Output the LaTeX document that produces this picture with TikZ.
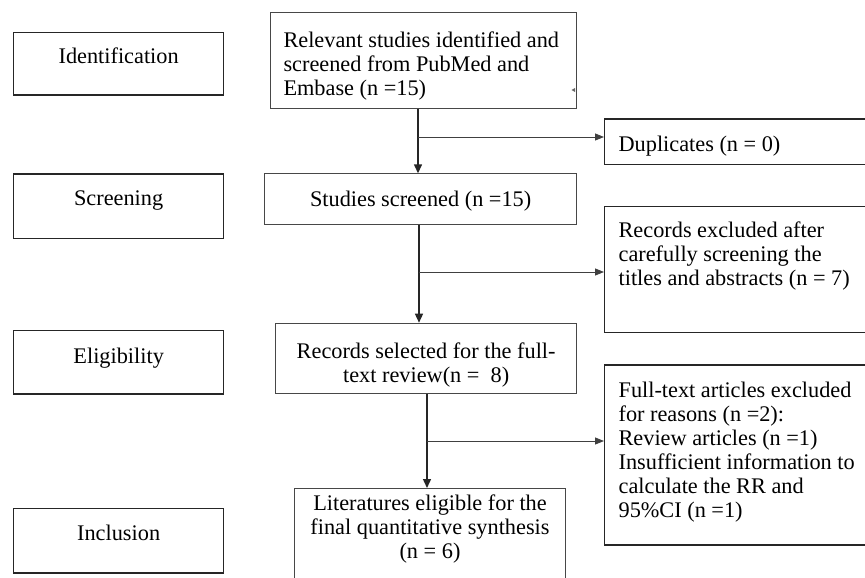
\documentclass[tikz,border=0pt]{standalone}
\usepackage{fontspec}
\setmainfont{Liberation Serif}
\usetikzlibrary{arrows.meta}
% #1 height, #2 width, #3 alignment, #4 top offset, #5 text
\newcommand\bt[5]{\parbox[c][#1][t]{#2}{#3\vspace*{#4}\strut#5}}
\newcommand\lin{\raggedright\leftskip=14pt\relax}
\begin{document}
\begin{tikzpicture}[x=1pt,y=-1pt,
  every node/.style={font=\fontsize{22.3}{24}\selectfont, text=black},
  lbox/.style={draw=black!85, line width=1.3pt, rectangle, inner sep=0pt, anchor=north west},
  mbox/.style={draw=black!72, line width=1pt, rectangle, inner sep=0pt, anchor=north west},
  rbox/.style={draw=black!85, line width=1.2pt, rectangle, inner sep=0pt, anchor=north west},
  trunk/.style={draw=black!85, line width=1.4pt, -{Triangle[length=9pt,width=8pt]}},
  branch/.style={draw=black!75, line width=0.9pt, -{Triangle[length=9pt,width=7pt]}}]
\useasboundingbox (0,0) rectangle (865,578);
\clip (0,0) rectangle (865,578);
\fill[white] (0,0) rectangle (865,578);

% stage boxes
\node[lbox] (id)  at (13,31.7)  {\bt{62.6pt}{210pt}{\centering}{14.8pt}{Identification}};
\node[lbox] (scr) at (13,173.3) {\bt{64.4pt}{210pt}{\centering}{14.9pt}{Screening}};
\node[lbox] (eli) at (13,330)   {\bt{63.3pt}{210pt}{\centering}{16.5pt}{Eligibility}};
\node[lbox] (inc) at (13,507.7) {\bt{64.6pt}{210pt}{\centering}{15.2pt}{Inclusion}};

% main column
\node[mbox] (b1) at (270,12.3) {\bt{96pt}{306pt}{\raggedright\leftskip=13pt\relax}{18.2pt}{Relevant studies identified and\\screened from PubMed and\\Embase (n =15)}};
\node[mbox] (b2) at (264.3,173.3) {\bt{50.7pt}{311.7pt}{\centering}{15.6pt}{Studies screened (n =15)}};
\node[mbox] (b3) at (275.3,322.7) {\bt{70.6pt}{300.7pt}{\centering}{18.8pt}{Records selected for the full-\\text review(n =\ \ 8)}};
\node[mbox] (b4) at (294,488) {\bt{130pt}{271pt}{\centering}{5.2pt}{Literatures eligible for the\\final quantitative synthesis\\(n = 6)}};

% right column
\node[rbox] (dup) at (604,118.3) {\bt{45.7pt}{300pt}{\lin}{15.6pt}{Duplicates (n = 0)}};
\node[rbox] (rec) at (604,205.7) {\bt{126pt}{300pt}{\lin}{14.2pt}{Records excluded after\\carefully screening the\\titles and abstracts (n = 7)}};
\node[rbox] (ft)  at (604,364.3) {\bt{180pt}{300pt}{\lin}{15.6pt}{Full-text articles excluded\\for reasons (n =2):\\Review articles (n =1)\\Insufficient information to\\calculate the RR and\\95\%CI (n =1)}};

% connector columns and junctions
\coordinate (c1) at (418,0);
\coordinate (c2) at (419,0);
\coordinate (c3) at (427,0);
\coordinate (j1) at (418,137);
\coordinate (j2) at (419,272);
\coordinate (j3) at (427,441);

\draw[trunk] (b1.south -| c1) -- (b2.north -| c1);
\draw[trunk] (b2.south -| c2) -- (b3.north -| c2);
\draw[trunk] (b3.south -| c3) -- (b4.north -| c3);
\draw[branch] (j1) -- (j1 -| dup.west);
\draw[branch] (j2) -- (j2 -| rec.west);
\draw[branch] (j3) -- (j3 -| ft.west);

% small stray mark inside the first box
\fill[black!60] (571.5,90) -- (575,88) -- (575,92) -- cycle;
\end{tikzpicture}
\end{document}
